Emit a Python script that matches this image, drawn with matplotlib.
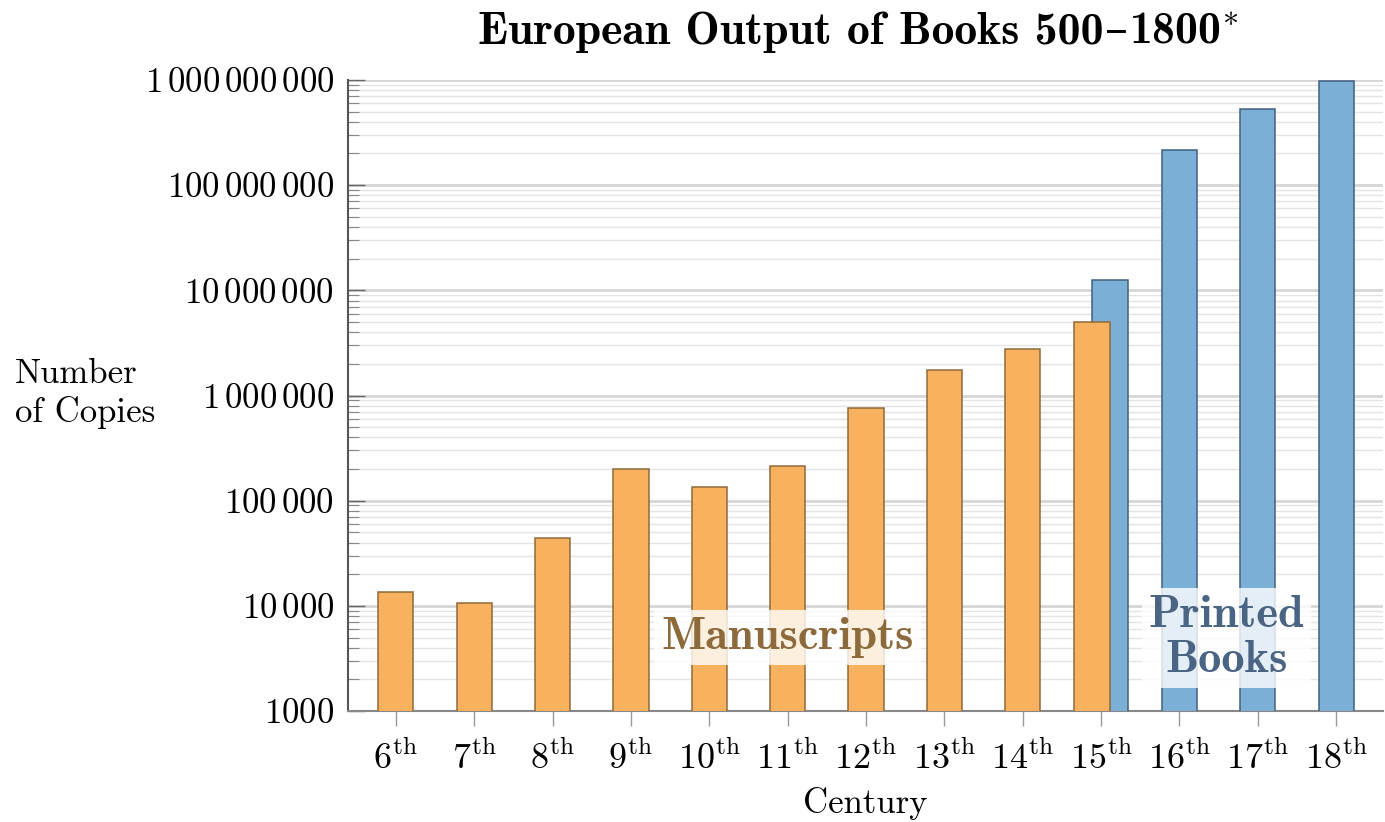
import numpy as np
import matplotlib.pyplot as plt
from matplotlib.ticker import FixedLocator, LogLocator, NullFormatter
from matplotlib.offsetbox import TextArea, HPacker, AnchoredOffsetbox

plt.rcParams['mathtext.fontset'] = 'cm'
plt.rcParams['font.family'] = ['cmr10', 'DejaVu Serif']
plt.rcParams['axes.formatter.use_mathtext'] = True

# data (copies per century)
centuries = [6, 7, 8, 9, 10, 11, 12, 13, 14, 15, 16, 17, 18]
century_labels = [r'$%d^{\mathrm{th}}$' % c for c in centuries]

ms_centuries = [6, 7, 8, 9, 10, 11, 12, 13, 14, 15]
ms_copies = [13600, 10600, 43700, 202000, 136000, 212000, 769000,
             1760000, 2750000, 5000000]

pr_centuries = [15, 16, 17, 18]
pr_copies = [12600000, 217000000, 532000000, 984000000]

ytick_values = [1e3, 1e4, 1e5, 1e6, 1e7, 1e8, 1e9]
ytick_labels = ['$1000$', r'$10\,000$', r'$100\,000$', r'$1\,000\,000$',
                r'$10\,000\,000$', r'$100\,000\,000$', r'$1\,000\,000\,000$']

ORANGE = '#F8B15E'
ORANGE_EDGE = '#8F6A3A'
BLUE = '#7BAFD6'
BLUE_EDGE = '#40607E'

fig = plt.figure(figsize=(13.85, 8.22), dpi=100)
ax = fig.add_axes([0.2513, 0.135, 0.7474, 0.7677])

# the 15th century has both kinds, shift them apart a bit
shift = 0.115
width = 0.45
ms_x = [c - shift if c in pr_centuries else c for c in ms_centuries]
pr_x = [c + shift if c in ms_centuries else c for c in pr_centuries]

ax.bar(pr_x, pr_copies, width=width, color=BLUE, edgecolor=BLUE_EDGE,
       linewidth=1.1, zorder=3)
ax.bar(ms_x, ms_copies, width=width, color=ORANGE, edgecolor=ORANGE_EDGE,
       linewidth=1.1, zorder=4)

ax.set_yscale('log')
ax.set_ylim(1e3, 1e9)
ax.set_xlim(5.39, 18.6)

ax.yaxis.set_major_locator(FixedLocator(ytick_values))
ax.set_yticklabels(ytick_labels, fontsize=25)
ax.yaxis.set_minor_locator(LogLocator(base=10, subs=np.arange(2, 10)))
ax.yaxis.set_minor_formatter(NullFormatter())

ax.set_xticks(centuries)
ax.set_xticklabels(century_labels, fontsize=26)

ax.grid(which='major', axis='y', color='#d6d6d6', linewidth=2.0, zorder=0)
ax.grid(which='minor', axis='y', color='#e4e4e4', linewidth=1.0, zorder=0)
ax.set_axisbelow(True)

ax.tick_params(axis='y', which='major', direction='in', length=12, width=1,
               color='#666666', pad=10)
ax.tick_params(axis='y', which='minor', direction='in', length=8, width=0.8,
               color='#888888')
ax.tick_params(axis='x', which='major', direction='out', length=11, width=1,
               color='#999999', pad=10)

for side in ['top', 'right']:
    ax.spines[side].set_visible(False)
ax.spines['left'].set_color('#555555')
ax.spines['left'].set_linewidth(1.5)
ax.spines['bottom'].set_color('#888888')
ax.spines['bottom'].set_linewidth(1.5)

ax.set_xlabel('Century', fontsize=25, labelpad=8)
fig.text(0.011, 0.521, 'Number\nof Copies', fontsize=25, ha='left',
         va='center', multialignment='left', linespacing=1.2)

# title: cmb10 has no usable en dash, so that one glyph comes from DejaVu
title_props = dict(fontsize=33, family='cmb10')
title_parts = [
    TextArea('European Output of Books 500', textprops=title_props),
    TextArea('\u2013', textprops=dict(fontsize=33, family='DejaVu Serif')),
    TextArea('1800$^{*}$', textprops=title_props),
]
title_box = HPacker(children=title_parts, align='baseline', pad=0, sep=1)
anchored = AnchoredOffsetbox(loc='center', child=title_box, pad=0,
                             frameon=False, bbox_to_anchor=(0.62, 0.962),
                             bbox_transform=fig.transFigure, borderpad=0)
fig.add_artist(anchored)

box = dict(facecolor='white', alpha=0.8, edgecolor='none', pad=5)
ax.text(11.0, 5000, 'Manuscripts', fontsize=33.5, ha='center', va='center',
        color='#8C6A3C', family='cmb10', bbox=box, zorder=5)
ax.text(16.6, 4950, 'Printed\nBooks', fontsize=33.5, ha='center',
        va='center', color='#4A6584', family='cmb10',
        linespacing=1.12, bbox=box, zorder=5)

fig.savefig('out.png', dpi=100)
